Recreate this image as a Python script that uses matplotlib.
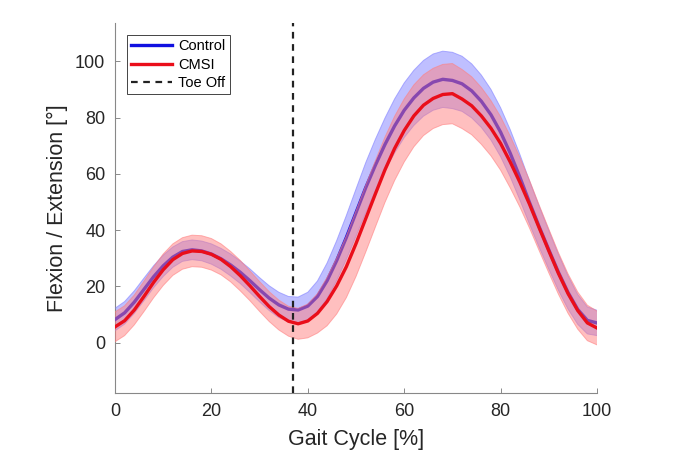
import matplotlib
matplotlib.use("Agg")
import numpy as np
from matplotlib import pyplot as plt

plt.rcParams["font.family"] = ["Liberation Sans", "DejaVu Sans"]

# gait cycle samples [%]
cycle = np.arange(0, 100.1, 2)

control_mean = [8.2, 10.6, 14.4, 18.9, 23.4, 27.3, 30.4, 32.4, 33.0, 32.6,
                31.5, 29.8, 27.6, 25.0, 22.0, 18.8, 15.8, 13.4, 11.9, 11.6,
                13.0, 16.4, 22.0, 29.2, 37.4, 46.2, 55.0, 63.0, 70.4, 77.0,
                82.6, 87.0, 90.4, 92.6, 93.6, 93.2, 92.0, 89.5, 85.8, 81.0,
                74.8, 67.3, 58.8, 49.8, 41.2, 33.0, 25.0, 17.8, 11.8, 7.9,
                7.0]
control_std = [4.0, 4.0, 4.0, 4.0, 3.9, 3.8, 3.6, 3.5, 3.5, 3.5,
               3.6, 3.7, 3.9, 4.0, 4.2, 4.3, 4.4, 4.5, 4.5, 4.6,
               4.9, 5.5, 6.3, 7.1, 7.8, 8.4, 8.9, 9.2, 9.4, 9.6,
               9.7, 9.8, 9.9, 10.0, 10.0, 10.0, 9.8, 9.6, 9.3, 9.0,
               8.7, 8.4, 8.1, 7.7, 7.3, 6.9, 6.4, 5.9, 5.3, 4.8,
               4.5]

cmsi_mean = [5.6, 7.8, 11.6, 16.4, 21.4, 25.9, 29.5, 31.7, 32.6, 32.4,
             31.4, 29.6, 27.0, 23.8, 20.2, 16.4, 12.8, 9.8, 7.6, 6.7,
             7.7, 10.4, 14.6, 20.2, 27.0, 35.2, 44.0, 52.8, 61.4, 69.0,
             75.4, 80.6, 84.4, 86.8, 88.2, 88.5, 86.6, 84.2, 80.6, 76.2,
             70.8, 64.2, 57.0, 49.2, 40.8, 32.6, 24.6, 17.4, 11.4, 7.0,
             5.2]
cmsi_std = [5.3, 5.3, 5.3, 5.4, 5.5, 5.6, 5.6, 5.6, 5.6, 5.6,
            5.6, 5.5, 5.4, 5.4, 5.3, 5.3, 5.3, 5.3, 5.3, 5.5,
            6.0, 7.0, 8.6, 10.0, 11.0, 11.7, 11.9, 11.8, 11.6, 11.4,
            11.2, 11.0, 10.8, 10.7, 10.7, 10.7, 10.5, 10.3, 10.1, 9.8,
            9.5, 9.2, 8.8, 8.5, 8.1, 7.8, 7.4, 7.0, 6.6, 6.3,
            6.0]

toe_off = 37

# name, mean, std, line colour, band colour
groups = [
    ("Control", control_mean, control_std, "#1010e0", (0.5, 0.5, 1.0)),
    ("CMSI", cmsi_mean, cmsi_std, "#ea0e1a", (1.0, 0.5, 0.5)),
]

fig = plt.figure(figsize=(6.89, 4.59), dpi=100)
ax = fig.add_axes([0.1669, 0.1438, 0.6996, 0.806])

handles = []
for i, (name, mean, std, line_col, band_col) in enumerate(groups):
    z = 2 + 3 * i
    mean = np.array(mean)
    std = np.array(std)
    ax.fill_between(cycle, mean - std, mean + std, facecolor=band_col,
                    alpha=0.5, edgecolor="none", zorder=z)
    ax.plot(cycle, mean - std, color=band_col, lw=0.7, alpha=0.6,
            solid_joinstyle="round", zorder=z + 1)
    ax.plot(cycle, mean + std, color=band_col, lw=0.7, alpha=0.6,
            solid_joinstyle="round", zorder=z + 1)
    (h,) = ax.plot(cycle, mean, color=line_col, lw=2.4, label=name,
                   solid_joinstyle="round", zorder=z + 2)
    handles.append(h)

h_to = ax.axvline(toe_off, color="#222222", lw=1.6, ls=(0, (3, 2.5)),
                  label="Toe Off", zorder=10)
handles.append(h_to)

ax.set_xlim(0, 100)
ax.set_ylim(-17.9, 113.6)
ax.set_xticks(np.arange(0, 101, 20))
ax.set_yticks(np.arange(0, 101, 20))
ax.tick_params(direction="in", length=3.5, width=0.6, colors="#777777",
               labelcolor="#262626", labelsize=13, pad=7)
for side in ["top", "right"]:
    ax.spines[side].set_visible(False)
for side in ["left", "bottom"]:
    ax.spines[side].set_color("#888888")
    ax.spines[side].set_linewidth(0.8)

ax.set_xlabel("Gait Cycle [%]", fontsize=15.5, color="#262626", labelpad=7)
ax.set_ylabel("Flexion / Extension [°]", fontsize=15.5, color="#262626",
              labelpad=5)

leg = ax.legend(handles=handles, loc="upper left", borderaxespad=0,
                bbox_to_anchor=(0.025, 0.968), fontsize=10.5,
                handlelength=2.8, handletextpad=0.4, borderpad=0.3,
                labelspacing=0.3, fancybox=False, framealpha=1,
                edgecolor="#444444")
leg.get_frame().set_linewidth(0.7)
leg.set_zorder(20)

fig.savefig("out.png", dpi=100)
